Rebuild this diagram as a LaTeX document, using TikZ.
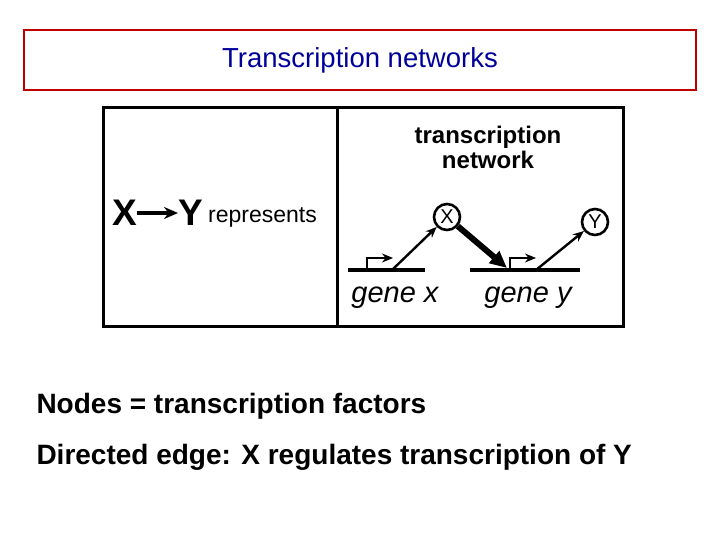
\documentclass[tikz,border=0pt]{standalone}
\usepackage{fontspec}
\setmainfont{Liberation Sans}
\usepackage{tikz}
\usetikzlibrary{arrows.meta}

\begin{document}
\begin{tikzpicture}[x=1pt,y=-1pt,
    gene/.style = {line width=3.5pt},
    arr/.style = {-{Stealth[length=11pt,width=9pt]}, line width=2.4pt},
    tf/.style = {circle, draw, line width=2.6pt, minimum size=26pt, inner sep=0pt,
      font=\fontsize{20}{20}\selectfont}]

  \useasboundingbox (0,0) rectangle (720,540);

  % Title
  \node[draw=red!75!black, line width=2pt, minimum width=672pt, minimum height=60pt,
    font=\fontsize{27.5}{27.5}\selectfont, text=blue!60!black] (title) at (360,60) {Transcription networks};

  % Figure frame
  \draw[line width=3pt] (103,108) rectangle (623,326);
  \draw[line width=3pt] (337,108) -- (337,326);

  % Left panel
  \node[font=\fontsize{37}{37}\selectfont\bfseries, anchor=west, inner sep=0pt] (xl) at (112,213) {X};
  \node[font=\fontsize{37}{37}\selectfont\bfseries, anchor=west, inner sep=0pt] (yl) at (178,213) {Y};
  \draw[-{Stealth[length=14pt,width=12pt]}, line width=3.5pt] (xl.east) -- (yl.west);
  \node[font=\fontsize{23}{23}\selectfont, anchor=west, inner sep=0pt] (rep) at (208,217) {represents};

  % Right panel
  \node[font=\fontsize{24}{25}\selectfont\bfseries, align=center] (net) at (488,147) {transcription\\network};
  \node[tf] (X) at (447,217) {X};
  \node[tf] (Y) at (595,222) {Y};

  % Gene x
  \coordinate (gx1) at (348,270);
  \coordinate (gx2) at (425,270);
  \coordinate (px) at (367,270);
  \coordinate (dx) at (392,270);
  \draw[gene] (gx1) -- (gx2);
  \draw[arr] (px) -- ++(0,-12) -- ++(26,0);
  \draw[arr] (dx) -- (X);

  % Gene y
  \coordinate (gy1) at (470,270);
  \coordinate (gy2) at (580,270);
  \coordinate (py) at (510,270);
  \coordinate (dy) at (536,270);
  \draw[gene] (gy1) -- (gy2);
  \draw[arr] (py) -- ++(0,-12) -- ++(26,0);
  \draw[arr] (dy) -- (Y);

  % Regulation
  \coordinate (tgt) at (507,268);
  \draw[-{Triangle[length=17pt,width=15pt]}, line width=6pt] (X) -- (tgt);

  \node[font=\fontsize{29}{29}\selectfont\itshape] (gxl) at (395,298) {gene x};
  \node[font=\fontsize{29}{29}\selectfont\itshape] (gyl) at (528,298) {gene y};

  % Text lines
  \node[font=\fontsize{28}{28}\selectfont\bfseries, anchor=west] (l1) at (33,406) {Nodes = transcription factors};
  \node[font=\fontsize{28}{28}\selectfont\bfseries, anchor=west] (l2) at (33,457) {Directed edge: X regulates transcription of Y};
\end{tikzpicture}
\end{document}
